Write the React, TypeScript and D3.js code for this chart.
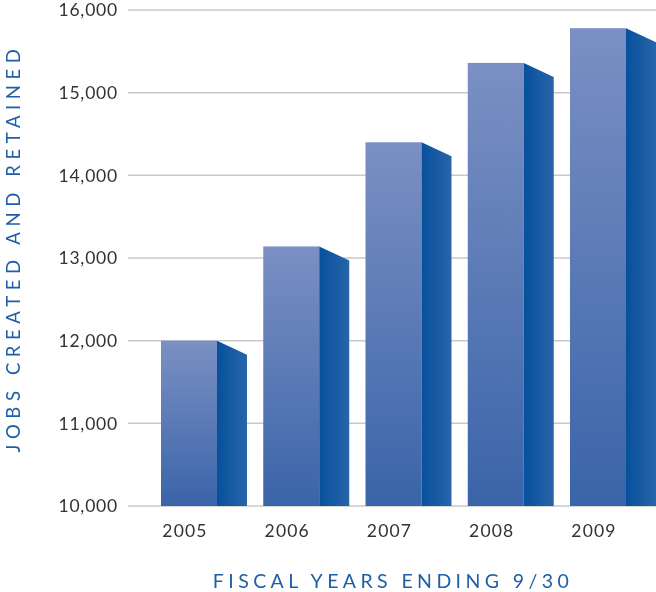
import React from "react";
import * as d3 from "d3";

const years = ["2005", "2006", "2007", "2008", "2009"];
const jobs = [12000, 13140, 14400, 15360, 15780];
const yTicks = [10000, 11000, 12000, 13000, 14000, 15000, 16000];
const yTitle = "JOBS CREATED AND RETAINED";
const xTitle = "FISCAL YEARS ENDING 9/30";

const W = 656;
const H = 592;
const FONT = "Lato, 'Open Sans', sans-serif";

export default function App() {
  const y = d3.scaleLinear().domain([10000, 16000]).range([506, 10]);
  const x = d3.scaleBand<string>().domain(years).range([161, 656]).paddingInner(0.159).paddingOuter(0);
  const bw = x.bandwidth();
  const frontW = bw * (56 / 86);
  const drop = 14;
  const fmt = d3.format(",");

  return (
    <div style={{ position: "fixed", left: 0, top: 0 }}>
      <svg width={W} height={H} style={{ display: "block" }}>
        <defs>
          <linearGradient id="front" x1="0" y1="0" x2="0" y2="1">
            <stop offset="0" stopColor="#7b90c3" />
            <stop offset="1" stopColor="#3a64a9" />
          </linearGradient>
          <linearGradient id="side" x1="0" y1="0" x2="1" y2="0">
            <stop offset="0" stopColor="#07509c" />
            <stop offset="1" stopColor="#2865aa" />
          </linearGradient>
        </defs>
        {yTicks.map((t) => (
          <g key={t}>
            <line x1={128} x2={W} y1={y(t)} y2={y(t)} stroke="#c9c9c9" strokeWidth={1.5} />
            <text x={118} y={y(t)} dy="0.36em" textAnchor="end" fontFamily={FONT} fontSize={17.5} letterSpacing={0.8} fill="#333">
              {fmt(t)}
            </text>
          </g>
        ))}
        {years.map((yr, i) => {
          const x0 = x(yr) as number;
          const top = y(jobs[i]);
          const base = y(10000);
          const sidePath = `M${x0 + frontW},${top} L${x0 + bw},${top + drop} L${x0 + bw},${base} L${x0 + frontW},${base} Z`;
          return (
            <g key={yr}>
              <rect x={x0} y={top} width={frontW} height={base - top} fill="url(#front)" />
              <path d={sidePath} fill="url(#side)" />
              <text x={x0 + frontW / 2 - 4} y={537} textAnchor="middle" fontFamily={FONT} fontSize={17.5} letterSpacing={1.2} fill="#333">
                {yr}
              </text>
            </g>
          );
        })}
        <text
          transform={`translate(20,248) rotate(-90)`}
          textAnchor="middle"
          fontFamily={FONT}
          fontSize={18.5}
          letterSpacing={5.6}
          fill="#1f5fa8"
        >
          {yTitle}
        </text>
        <text x={393} y={588} textAnchor="middle" fontFamily={FONT} fontSize={19.5} letterSpacing={4.4} fill="#1f5fa8">
          {xTitle}
        </text>
      </svg>
    </div>
  );
}
